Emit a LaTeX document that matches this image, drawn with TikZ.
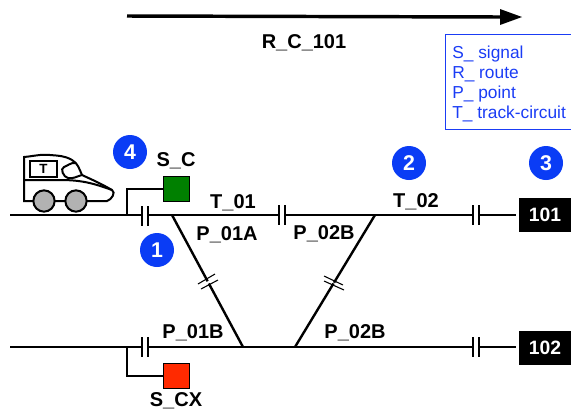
\documentclass[tikz,border=0pt]{standalone}
\usepackage{fontspec}
\setmainfont{Liberation Sans}
\definecolor{badgeblue}{HTML}{0A3CF5}
\definecolor{legendblue}{HTML}{1A3CF5}
\definecolor{signalgreen}{HTML}{008000}
\definecolor{signalred}{HTML}{FF2A00}
\tikzset{
    track/.style={line width=1.8pt},
    tick/.style={line width=0.8pt},
    lab/.style={font=\fontsize{15}{15}\selectfont\bfseries, inner sep=0pt},
    badge/.style={circle, fill=badgeblue, text=white, minimum size=25.5pt, inner sep=0pt, font=\fontsize{16}{16}\selectfont\bfseries},
    endbox/.style={fill=black, text=white, minimum width=39pt, minimum height=25pt, inner sep=0pt, font=\fontsize{14.5}{15}\selectfont\bfseries},
    signalbox/.style={draw=black, line width=0.8pt, minimum size=19pt, inner sep=0pt},
}
\begin{document}
\begin{tikzpicture}[x=0.75pt, y=-0.75pt]
    \useasboundingbox (0,0) rectangle (571,411);

    % route arrow
    \coordinate (routeA) at (127,16);
    \coordinate (routeB) at (500,17);
    \draw[line width=2.6pt] (routeA) -- (routeB);
    \fill (500,9) -- (522,17) -- (500,25) -- cycle;
    \node[lab] (route) at (304,43) {R\_C\_101};

    % legend
    \draw[legendblue, line width=0.7pt] (573,34) -- (445,34) -- (445,129) -- (573,129);
    \node[text=legendblue, align=left, anchor=west, inner sep=0pt,
          font=\fontsize{13}{15}\selectfont] (legend) at (452,83.5)
          {S\_ signal\\R\_ route\\P\_ point\\T\_ track-circuit};

    % end boxes and signals
    \node[endbox] (end101) at (545,215) {101};
    \node[endbox] (end102) at (545,348) {102};
    \node[signalbox, fill=signalgreen] (sigC) at (176.5,189) {};
    \node[signalbox, fill=signalred] (sigCX) at (176.5,376) {};

    % upper track
    \coordinate (upL) at (10,215);
    \coordinate (upA) at (127,215);
    \coordinate (upB) at (172,215);
    \coordinate (upC) at (375,215);
    \draw[track] (upL) -- (142,215);
    \draw[track] (148,215) -- (279,215);
    \draw[track] (285,215) -- (473,215);
    \draw[track] (479,215) -- (516,215);

    % lower track
    \coordinate (loL) at (10,347);
    \coordinate (loA) at (127,347);
    \coordinate (loB) at (243,347);
    \coordinate (loC) at (295,347);
    \draw[track] (loL) -- (142,347);
    \draw[track] (148,347) -- (473,347);
    \draw[track] (479,347) -- (516,347);

    % points
    \draw[track] (upB) -- (loB);
    \draw[track] (upC) -- (loC);

    % joints
    \foreach \x/\y in {142/216, 148/216, 279/215, 285/215, 473/215, 479/215, 142/347, 148/347, 473/347, 479/347}
        \draw[tick] (\x,\y-10) -- (\x,\y+10);
    \fill[white] (199,286) -- (216,277) -- (217,279) -- (200,288) -- cycle;
    \draw[tick] (198,284) -- (215,274);
    \draw[tick] (201,289) -- (218,280);
    \fill[white] (324,278) -- (343,287) -- (344,288) -- (324,279) -- cycle;
    \draw[tick] (324,276) -- (343,285);
    \draw[tick] (324,281) -- (344,290);

    % signal feeders
    \draw[line width=1.5pt] (upA) -- (127,189) -- (sigC.west);
    \draw[line width=1.5pt] (loA) -- (127,376) -- (sigCX.west);

    % train
    \draw[line width=1.5pt] (24,201) -- (24,157) to[out=5, in=175] (50,155) to[out=-5, in=150] (72,160)
        to[out=-30, in=115] (82,175) to[out=-25, in=150] (112,190) to[out=-30, in=15] (107,201) -- cycle;
    \draw[line width=1.5pt] (24,180) -- (60,180) to[out=0, in=160] (112,190);
    \draw[line width=1.5pt] (82,175) to[out=195, in=-10] (68,178) to[out=170, in=200] (64,167) to[out=20, in=175] (75,163);
    \node[draw, line width=1.5pt, minimum width=20pt, minimum height=12pt, inner sep=0pt,
          font=\fontsize{10}{10}\selectfont\bfseries] (window) at (43.5,169) {T};
    \foreach \x/\n in {44/wheelA, 76/wheelB}
        \node[circle, draw, line width=1.5pt, fill=gray!60, minimum size=16pt, inner sep=0pt] (\n) at (\x,201) {};

    % badges
    \node[badge] (badge1) at (157,250) {1};
    \node[badge] (badge2) at (409,163) {2};
    \node[badge] (badge3) at (546,163) {3};
    \node[badge] (badge4) at (130,152) {4};

    % labels
    \node[lab] (labSC) at (176,161) {S\_C};
    \node[lab] (labT1) at (233,203) {T\_01};
    \node[lab] (labT2) at (416,202) {T\_02};
    \node[lab] (labPA) at (227,235) {P\_01A};
    \node[lab] (labPB) at (324,234) {P\_02B};
    \node[lab] (labPC) at (193,333) {P\_01B};
    \node[lab] (labPD) at (355,333) {P\_02B};
    \node[lab] (labCX) at (176,401) {S\_CX};
\end{tikzpicture}
\end{document}
